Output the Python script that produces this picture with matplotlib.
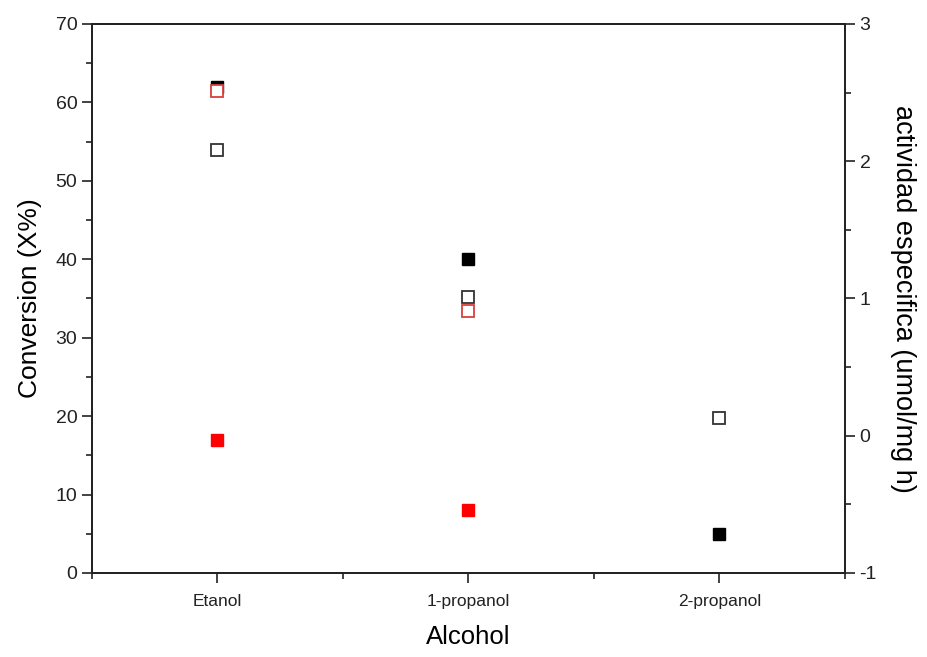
import matplotlib.pyplot as plt
import numpy as np
from matplotlib.ticker import MultipleLocator

plt.rcParams['font.family'] = ['Liberation Sans', 'DejaVu Sans']
plt.rcParams['axes.unicode_minus'] = False

alcohols = ["Etanol", "1-propanol", "2-propanol"]
pos = np.array([1, 2, 3])

# conversion (left axis), filled squares
conv_black = [62, 40, 5]
conv_red = [17, 8, np.nan]
# actividad especifica (right axis), open squares
act_black = [2.08, 1.01, 0.13]
act_red = [2.51, 0.91, np.nan]

fig = plt.figure(figsize=(9.27, 6.57), dpi=100)
ax = fig.add_axes([0.0992, 0.1279, 0.8123, 0.8356])
ax2 = ax.twinx()

ax.plot(pos, conv_black, "s", color="black", ms=8.5, zorder=3)
ax.plot(pos, conv_red, "s", color="red", ms=8.5, zorder=3)
ax2.plot(pos, act_black, "s", mfc="white", mec="#333333", mew=1.3, ms=8.5)
ax2.plot(pos, act_red, "s", mfc="white", mec="#d94040", mew=1.3, ms=8.5)

ax.set_xlim(0.5, 3.5)
ax.set_ylim(0, 70)
ax2.set_ylim(-1, 3)
ax.set_xticks(pos)
ax.set_xticklabels(alcohols)
ax.xaxis.set_minor_locator(MultipleLocator(0.5))
ax.yaxis.set_major_locator(MultipleLocator(10))
ax.yaxis.set_minor_locator(MultipleLocator(5))
ax2.yaxis.set_major_locator(MultipleLocator(1))
ax2.yaxis.set_minor_locator(MultipleLocator(0.5))

for a in (ax, ax2):
    for s in a.spines.values():
        s.set_linewidth(1.3)
        s.set_color("#222222")
    a.tick_params(which="major", direction="out", length=7, width=1.2, labelsize=14, colors="#222222")
    a.tick_params(which="minor", direction="out", length=4, width=1.2, colors="#222222")
ax.tick_params(axis="x", which="both", top=False, pad=8, labelsize=12.5)
ax.tick_params(axis="y", right=False, which="both")

ax.set_xlabel("Alcohol", fontsize=18.5, labelpad=12)
ax.set_ylabel("Conversion (X%)", fontsize=19, labelpad=10)
ax2.set_ylabel("actividad especifica (umol/mg h)", fontsize=19.5, rotation=270, labelpad=28)

fig.savefig("out.png", dpi=100)
